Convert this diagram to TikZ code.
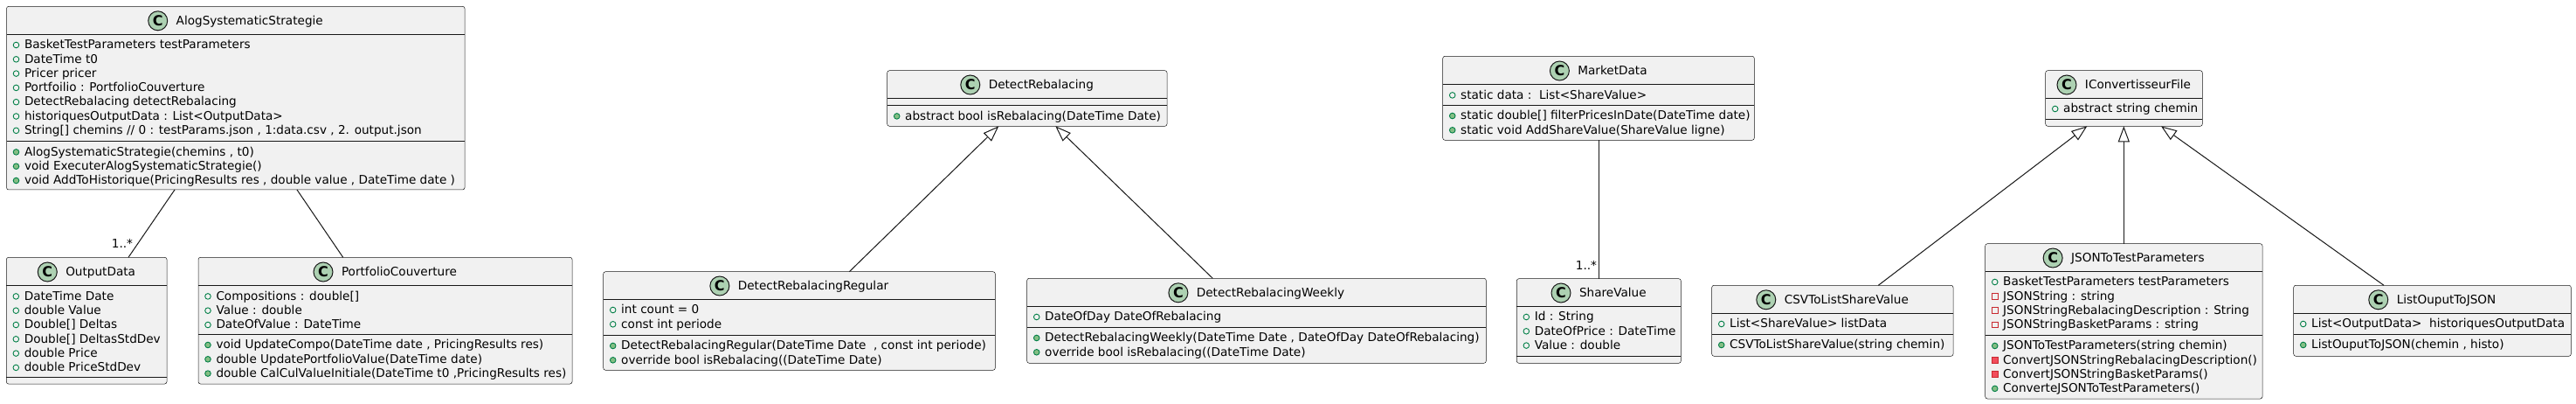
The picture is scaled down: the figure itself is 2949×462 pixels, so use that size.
\documentclass[tikz,border=0pt]{standalone}
\usepackage{fontspec}
\setmainfont{DejaVu Sans}
\usetikzlibrary{arrows.meta,calc}
\definecolor{boxfill}{HTML}{F1F1F1}
\definecolor{ink}{HTML}{181818}
\definecolor{circfill}{HTML}{ADD1B2}
\definecolor{pubdraw}{HTML}{038048}
\definecolor{pubfill}{HTML}{84BE84}
\definecolor{privdraw}{HTML}{C82930}
\definecolor{privfill}{HTML}{F24D5C}
\tikzset{
  clsbox/.style={rectangle, draw=ink, line width=0.5pt, fill=boxfill, rounded corners=2.5pt, inner sep=0pt, outer sep=0pt},
  sepline/.style={draw=ink, line width=0.5pt},
  txt/.style={inner sep=0pt, outer sep=0pt, font=\fontsize{13.6}{16.3}\selectfont, text=black},
  circC/.style={circle, minimum size=22pt, inner sep=0pt, fill=circfill, draw=ink, line width=1pt, font=\fontsize{16}{16}\selectfont\bfseries},
  iconf/.style={circle, minimum size=6.6pt, inner sep=0pt, draw=pubdraw, line width=0.9pt},
  iconm/.style={circle, minimum size=6.6pt, inner sep=0pt, draw=pubdraw, fill=pubfill, line width=0.9pt},
  iconpf/.style={rectangle, minimum size=6.5pt, inner sep=0pt, draw=privdraw, line width=0.9pt},
  iconpm/.style={rectangle, minimum size=6.5pt, inner sep=0pt, draw=privdraw, fill=privfill, line width=0.9pt},
  assoc/.style={draw=ink, line width=1pt},
  inherit/.style={draw=ink, line width=1pt, -{Triangle[open, length=18pt, width=13pt]}},
}
% #1 name, #2 x, #3 y, #4 w, #5 h, #6 title, #7 header sep, #8 attribute sep
\newcommand\classbox[8]{%
  \node[clsbox, minimum width=#4pt, minimum height=#5pt, anchor=north west] (#1) at (#2,#3) {};
  \draw[sepline] ([yshift=-#7pt]#1.north west) -- ([yshift=-#7pt]#1.north east);
  \draw[sepline] ([yshift=-#8pt]#1.north west) -- ([yshift=-#8pt]#1.north east);
  \node[txt, anchor=base] (#1-title) at ([xshift=16pt, yshift=-#7pt/2-5pt]#1.north) {#6};
  \node[circC] (#1-c) at ([xshift=-21pt, yshift=4.5pt]#1-title.base west) {C};
}
% #1 name, #2 section top offset, #3 list of type/text
\newcommand\members[3]{%
  \foreach \mtype/\mtext [count=\mi] in {#3} {%
    \pgfmathsetmacro\myy{#2+16.5+16.3*(\mi-1)}%
    \node[txt, anchor=base west] at ([xshift=20.5pt, yshift=-\myy pt]#1.north west) {\mtext};%
    \node[icon\mtype] at ([xshift=11pt, yshift=-\myy pt+4.3pt]#1.north west) {};%
  }%
}
\begin{document}
\begin{tikzpicture}[x=1pt,y=-1pt]
\fill[white] (0,0) rectangle (2949,462);
\useasboundingbox (0,0) rectangle (2949,462);

% AlogSystematicStrategie
\classbox{alog}{7.5}{7.3}{524.5}{209.7}{AlogSystematicStrategie}{32}{154.4}
\members{alog}{32}{f/{BasketTestParameters testParameters}, f/{DateTime t0}, f/{Pricer pricer}, f/{Portfoilio : PortfolioCouverture}, f/{DetectRebalacing detectRebalacing}, f/{historiquesOutputData : List<OutputData>}, f/{String[] chemins // 0 : testParams.json , 1:data.csv , 2. output.json}}
\members{alog}{154.4}{m/{AlogSystematicStrategie(chemins , t0)}, m/{void ExecuterAlogSystematicStrategie()}, m/{void AddToHistorique(PricingResults res , double value , DateTime date )}}

% OutputData
\classbox{od}{7.3}{294.3}{183.7}{144.7}{OutputData}{32.4}{136.7}
\members{od}{32.4}{f/{DateTime Date}, f/{double Value}, f/{Double[] Deltas}, f/{Double[] DeltasStdDev}, f/{double Price}, f/{double PriceStdDev}}

% PortfolioCouverture
\classbox{pc}{227}{294.3}{428}{144.7}{PortfolioCouverture}{32.4}{88}
\members{pc}{32.4}{f/{Compositions : double[]}, f/{Value : double}, f/{DateOfValue : DateTime}}
\members{pc}{88}{m/{void UpdateCompo(DateTime date , PricingResults res)}, m/{double UpdatePortfolioValue(DateTime date)}, m/{double CalCulValueInitiale(DateTime t0 ,PricingResults res)}}

% DetectRebalacing
\classbox{dr}{1015.7}{80.7}{320.3}{63.6}{DetectRebalacing}{31.6}{40}
\members{dr}{40}{m/{abstract bool isRebalacing(DateTime Date)}}

% DetectRebalacingRegular
\classbox{drr}{690.7}{310.7}{448.6}{112.6}{DetectRebalacingRegular}{31.6}{72.6}
\members{drr}{31.6}{f/{int count = 0}, f/{const int periode}}
\members{drr}{72.6}{m/{DetectRebalacingRegular(DateTime Date\ \ , const int periode)}, m/{override bool isRebalacing((DateTime Date)}}

% DetectRebalacingWeekly
\classbox{drw}{1175.7}{318.3}{525.6}{97}{DetectRebalacingWeekly}{32}{56}
\members{drw}{32}{f/{DateOfDay DateOfRebalacing}}
\members{drw}{56}{m/{DetectRebalacingWeekly(DateTime Date , DateOfDay DateOfRebalacing)}, m/{override bool isRebalacing((DateTime Date)}}

% MarketData
\classbox{md}{1651.7}{64.3}{356.6}{96}{MarketData}{32.4}{56}
\members{md}{32.4}{f/{static data :\ \ List<ShareValue>}}
\members{md}{56}{m/{static double[] filterPricesInDate(DateTime date)}, m/{static void AddShareValue(ShareValue ligne)}}

% ShareValue
\classbox{sv}{1736.3}{318.7}{188}{96.6}{ShareValue}{31.6}{89}
\members{sv}{31.6}{f/{Id : String}, f/{DateOfPrice : DateTime}, f/{Value : double}}

% CSVToListShareValue
\classbox{csv}{1959.7}{326.3}{276.3}{81}{CSVToListShareValue}{32}{56}
\members{csv}{32}{f/{List<ShareValue> listData}}
\members{csv}{56}{m/{CSVToListShareValue(string chemin)}}

% IConvertisseurFile
\classbox{ic}{2341.7}{80.7}{179.6}{63.6}{IConvertisseurFile}{31.6}{55.6}
\members{ic}{31.6}{f/{abstract string chemin}}

% JSONToTestParameters
\classbox{js}{2272.7}{278.7}{317.3}{177.3}{JSONToTestParameters}{31.6}{104.6}
\members{js}{31.6}{f/{BasketTestParameters testParameters}, pf/{JSONString : string}, pf/{JSONStringRebalacingDescription : String}, pf/{JSONStringBasketParams : string}}
\members{js}{104.6}{m/{JSONToTestParameters(string chemin)}, pm/{ConvertJSONStringRebalacingDescription()}, pm/{ConvertJSONStringBasketParams()}, m/{ConverteJSONToTestParameters()}}

% ListOuputToJSON
\classbox{lj}{2625.7}{326.3}{317.6}{81}{ListOuputToJSON}{32}{56}
\members{lj}{32}{f/{List<OutputData>\ \ historiquesOutputData}}
\members{lj}{56}{m/{ListOuputToJSON(chemin , histo)}}

% connectors
\draw[assoc] ([xshift=192.5pt]alog.south west) -- ([xshift=139.7pt]od.north west)
  node[txt, anchor=base east, xshift=5pt, yshift=11pt] {1..*};
\draw[assoc] ([xshift=332.5pt]alog.south west) -- ([xshift=165.7pt]pc.north west);
\draw[inherit] ([xshift=281.6pt]drr.north west) -- ([xshift=127.6pt]dr.south west);
\draw[inherit] ([xshift=212.6pt]drw.north west) -- ([xshift=192.6pt]dr.south west);
\draw[assoc] ([xshift=178.6pt]md.south west) -- ([xshift=94pt]sv.north west)
  node[txt, anchor=base east, xshift=-2.3pt, yshift=10.4pt] {1..*};
\draw[inherit] ([xshift=190.6pt]csv.north west) -- ([xshift=47.6pt]ic.south west);
\draw[inherit] ([xshift=158.6pt]js.north west) -- ([xshift=89.6pt]ic.south west);
\draw[inherit] ([xshift=103.3pt]lj.north west) -- ([xshift=132.3pt]ic.south west);
\end{tikzpicture}
\end{document}
